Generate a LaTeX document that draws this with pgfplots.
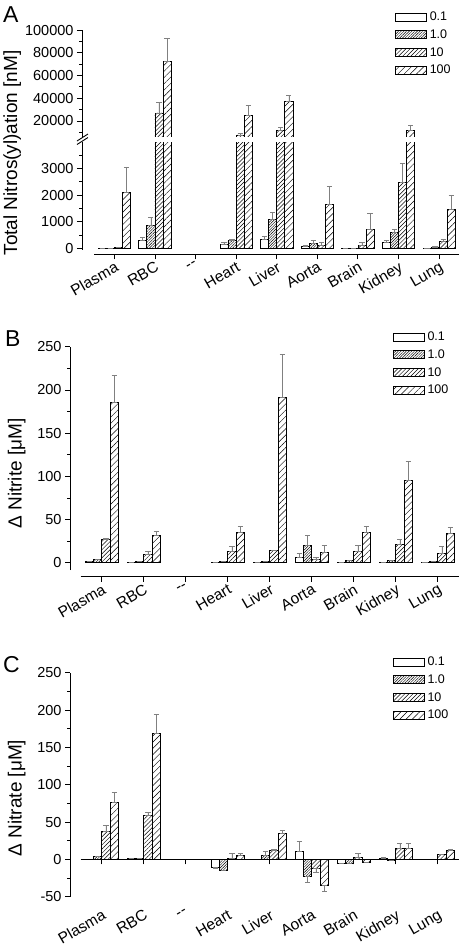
\documentclass[border=0pt]{standalone}
\usepackage{fontspec}
\setmainfont{Liberation Sans}
\usepackage{pgfplots}
\pgfplotsset{compat=1.18}
\usepackage{pgfplotstable}
\usetikzlibrary{patterns.meta}

% ---------------- Panel A (nM) ----------------
\pgfplotstableread{
x y ep em
0 5 0 0
1 318 112 0
3 168 64 0
4 345 123 0
5 90 25 0
6 3 0 0
7 218 74 0
8 10 0 0
}\Aa
\pgfplotstableread{
x y ep em
0 15 0 0
1 855 300 0
3 292 52 0
4 1105 250 0
5 195 110 0
6 5 0 0
7 606 124 0
8 60 15 0
}\Ab
\pgfplotstableread{
x y ep em
0 35 5 0
1 27000 9300 0
3 7700 1600 0
4 12000 2300 0
5 120 95 0
6 130 110 0
7 2490 700 0
8 280 75 0
}\Ac
\pgfplotstableread{
x y ep em
0 2100 960 0
1 72700 20000 0
3 25000 9000 0
4 37600 4700 0
5 1665 650 0
6 720 600 0
7 12000 4500 0
8 1480 525 0
}\Ad
% ---------------- Panel B (uM) ----------------
\pgfplotstableread{
x y ep em
0 1.2 0 0
1 0.3 0 0
3 0.8 0 0
4 0.4 0 0
5 6.2 4.6 0
6 0.4 0 0
7 0.6 0 0
8 0.4 0 0
}\Ba
\pgfplotstableread{
x y ep em
0 3.5 0 0
1 1.5 0 0
3 1.9 0 0
4 1.9 0 0
5 20 11.6 0
6 2.7 0 0
7 2.7 0 0
8 1.5 0 0
}\Bb
\pgfplotstableread{
x y ep em
0 27.4 0.8 0
1 10 2.7 0
3 12.7 5.8 0
4 14.3 0.5 0
5 4.2 2.5 0
6 13.1 6.9 0
7 21.2 5.8 0
8 10.8 7.7 0
}\Bc
\pgfplotstableread{
x y ep em
0 185.6 31.3 0
1 31.2 5.1 0
3 35.1 6.6 0
4 191.4 50.1 0
5 12 8 0
6 34.7 7 0
7 95.3 21.6 0
8 34 6.9 0
}\Bd
% ---------------- Panel C (uM) ----------------
\pgfplotstableread{
x y ep em
0 0.5 0 0
1 0.9 0 0
3 -10.7 0 0.8
4 0.4 0 0
5 10.3 14.2 0
6 -5.4 0 0.5
7 0.9 1.8 0
8 -0.4 0 0
}\Ca
\pgfplotstableread{
x y ep em
0 3.6 0 0
1 1.8 0 0
3 -14.3 0 0.9
4 5.8 4.5 0
5 -23.2 0 8
6 -5.8 0 0
7 -1.8 0 0
8 0.4 0 0
}\Cb
\pgfplotstableread{
x y ep em
0 38 7.6 0
1 58.5 4.9 0
3 1.3 6.7 0
4 12.5 1.3 0
5 -12 0 5.9
6 2.2 5.8 0
7 14.3 7.1 0
8 7.1 0 0
}\Cc
\pgfplotstableread{
x y ep em
0 76.4 13.4 0
1 168.9 24.9 0
3 4.9 3.1 0
4 34.8 4.5 0
5 -34.4 0 8.9
6 -4.5 0 0
7 14.3 7.1 0
8 12.5 0.9 0
}\Cd

\pgfplotsset{
  sA/.style={fill=white, draw=black, line width=0.7pt},
  sB/.style={sA, postaction={pattern={Lines[angle=45,distance=1.9pt,line width=0.45pt]}, pattern color=black}},
  sC/.style={sA, postaction={pattern={Lines[angle=45,distance=2.9pt,line width=0.45pt]}, pattern color=black}},
  sD/.style={sA, postaction={pattern={Lines[angle=45,distance=4.4pt,line width=0.45pt]}, pattern color=black}},
  mainax/.style={
    scale only axis,
    axis x line=none, axis y line*=left, xtick=\empty,
    xmax=8.5,
    ybar, bar width=0.2,
    scaled y ticks=false,
    ytick align=outside,
    major tick length=5pt, minor tick length=3pt,
    tick style={black, line width=0.8pt},
    axis line style={black, line width=1pt},
    tick label style={font=\fontsize{14.5}{16}\selectfont},
    error bars/y dir=both, error bars/y explicit,
    error bars/error mark=-,
    error bars/error bar style={gray, line width=0.6pt},
    error bars/error mark options={rotate=90, gray, line width=0.6pt, mark size=2.6pt},
    legend image code/.code={\draw[#1,/tikz/.cd,line width=0.7pt] (0pt,-4pt) rectangle (31pt,4pt);},
    legend cell align=left,
  },
  leg/.style={legend style={draw=none, fill=none, at={#1}, anchor=north west,
    font=\fontsize{12.5}{14}\selectfont, inner sep=0pt, row sep=0pt,
    nodes={inner sep=0pt, minimum height=17.7pt}, column sep=3pt}},
  xonly/.style={
    scale only axis, axis y line=none, axis x line*=bottom,
    ymin=0, ymax=1, height=1pt, xmin=-0.5, xmax=8.5,
    xtick={0,...,8},
    xticklabels={Plasma,RBC,-{}-,Heart,Liver,Aorta,Brain,Kidney,Lung},
    xtick align=outside, major tick length=5pt,
    tick style={black, line width=0.8pt},
    axis line style={black, line width=1pt},
    xticklabel style={rotate=30, anchor=north east, font=\fontsize{15.5}{17}\selectfont, inner sep=1pt},
  },
}

\newcommand{\bars}[4]{%
  \addplot[sA, bar shift=-0.3] table[x=x,y=y,y error plus=ep,y error minus=em] {#1};
  \addplot[sB, bar shift=-0.1] table[x=x,y=y,y error plus=ep,y error minus=em] {#2};
  \addplot[sC, bar shift=0.1] table[x=x,y=y,y error plus=ep,y error minus=em] {#3};
  \addplot[sD, bar shift=0.3] table[x=x,y=y,y error plus=ep,y error minus=em] {#4};
}

\begin{document}
\begin{tikzpicture}
\useasboundingbox (0pt,0pt) rectangle (462pt,-951pt);

% ===== Panel A =====
\begin{axis}[mainax, at={(82pt,-138pt)}, anchor=south west,
  width=377.4pt, height=108pt, xmin=-0.7956,
  ymin=5000, ymax=100000,
  ytick={20000,40000,60000,80000,100000},
  yticklabels={20000,40000,60000,80000,100000},
  minor ytick={10000,30000,50000,70000,90000},
  leg={(0.829,1.204)},
  legend entries={0.1,1.0,10,100}]
\bars{\Aa}{\Ab}{\Ac}{\Ad}
\end{axis}
\begin{axis}[mainax, at={(82pt,-249.6pt)}, anchor=south west,
  width=377.4pt, height=107.9pt, xmin=-0.7956,
  ymin=-40, ymax=4000,
  ytick={0,1000,2000,3000},
  yticklabels={0,1000,2000,3000},
  minor ytick={500,1500,2500,3500}]
\bars{\Aa}{\Ab}{\Ac}{\Ad}
\end{axis}
\begin{axis}[xonly, at={(94pt,-254.3pt)}, anchor=south west, width=365.4pt]
\end{axis}
% gap of the broken axis
\fill[white] (83pt,-137.3pt) rectangle (461pt,-142.2pt);
\draw[black, line width=0.9pt] (77pt,-141pt) -- (88pt,-134pt);
\draw[black, line width=0.9pt] (77pt,-144.5pt) -- (88pt,-137.5pt);
\node[anchor=base west, font=\fontsize{23}{25}\selectfont, inner sep=0pt] at (3pt,-22pt) {A};
\node[rotate=90, anchor=base, font=\fontsize{19}{21}\selectfont, inner sep=0pt] at (17pt,-153pt) {Total Nitros(yl)ation [nM]};

% ===== Panel B =====
\begin{axis}[mainax, at={(70pt,-570pt)}, anchor=south west,
  width=388.7pt, height=223.3pt, xmin=-0.755,
  ymin=-8.4, ymax=250,
  ytick={0,50,100,150,200,250},
  yticklabels={0,50,100,150,200,250},
  minor ytick={25,75,125,175,225},
  leg={(0.830,1.084)},
  legend entries={0.1,1.0,10,100}]
\bars{\Ba}{\Bb}{\Bc}{\Bd}
\end{axis}
\begin{axis}[xonly, at={(80.7pt,-576.7pt)}, anchor=south west, width=378pt]
\end{axis}
\node[anchor=base west, font=\fontsize{23}{25}\selectfont, inner sep=0pt] at (5pt,-346.7pt) {B};
\node[rotate=90, anchor=base, font=\fontsize{19}{21}\selectfont, inner sep=0pt] at (21.5pt,-473.5pt) {Δ Nitrite [μM]};

% ===== Panel C =====
\begin{axis}[mainax, at={(70pt,-896.7pt)}, anchor=south west,
  width=388.7pt, height=224pt, xmin=-0.755,
  ymin=-50, ymax=250,
  ytick={-50,0,50,100,150,200,250},
  yticklabels={-50,0,50,100,150,200,250},
  minor ytick={-25,25,75,125,175,225},
  leg={(0.830,1.088)},
  legend entries={0.1,1.0,10,100}]
\bars{\Ca}{\Cb}{\Cc}{\Cd}
\end{axis}
\begin{axis}[xonly, at={(80.7pt,-859.3pt)}, anchor=south west, width=378pt,
  xticklabel shift=43pt]
\end{axis}
\node[anchor=base west, font=\fontsize{23}{25}\selectfont, inner sep=0pt] at (3pt,-672pt) {C};
\node[rotate=90, anchor=base, font=\fontsize{19}{21}\selectfont, inner sep=0pt] at (21.5pt,-798pt) {Δ Nitrate [μM]};
\end{tikzpicture}
\end{document}
